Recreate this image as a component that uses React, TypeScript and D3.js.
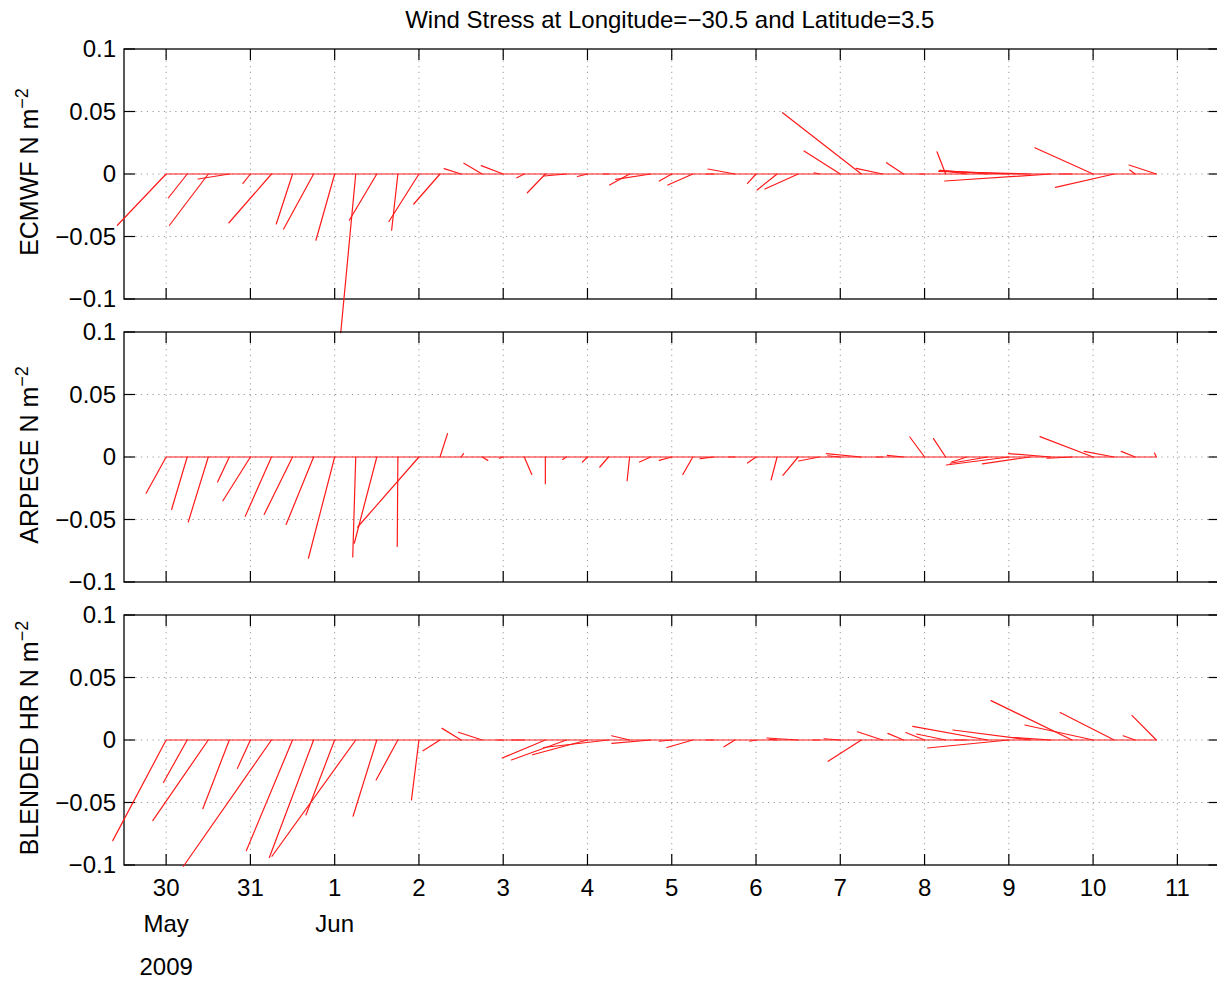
import React from "react";
import * as d3 from "d3";

// ---------- data ----------
const TITLE = "Wind Stress at Longitude=−30.5 and Latitude=3.5";
const SOURCES = ["ECMWF", "ARPEGE", "BLENDED HR"];

// x ticks: days since 30 May 2009 00:00
const DAY_TICKS = [0, 1, 2, 3, 4, 5, 6, 7, 8, 9, 10, 11, 12];
const DAY_LABELS = ["30", "31", "1", "2", "3", "4", "5", "6", "7", "8", "9", "10", "11"];
const MONTH_TICKS = [0, 2];
const MONTH_LABELS = ["May", "Jun"];
const YEAR_LABEL = "2009";
const X_DOMAIN = [-0.5, 12.5];

const Y_TICKS = [0.1, 0.05, 0, -0.05, -0.1];
const Y_TICK_LABELS = ["0.1", "0.05", "0", "−0.05", "−0.1"];
const Y_GRID = [0.05, 0, -0.05];

// sample times (days since 30 May 2009, 6-hourly)
const TIMES = [
  0, 0.25, 0.5, 0.75, 1, 1.25, 1.5, 1.75, 2, 2.25, 2.5, 2.75,
  3, 3.25, 3.5, 3.75, 4, 4.25, 4.5, 4.75, 5, 5.25, 5.5, 5.75,
  6, 6.25, 6.5, 6.75, 7, 7.25, 7.5, 7.75, 8, 8.25, 8.5, 8.75,
  9, 9.25, 9.5, 9.75, 10, 10.25, 10.5, 10.75, 11, 11.25, 11.5, 11.75,
];

const ECMWF_U = [-0.039, -0.015, -0.031, -0.025, -0.006, -0.034, -0.013, -0.024, -0.015, -0.012, -0.022, -0.005, -0.024, -0.021, -0.0136, -0.0146, -0.0176, -0.006, -0.0144, -0.018, -0.008, -0.004, -0.016, -0.028, -0.01, -0.02, -0.006, -0.0216, -0.0068, -0.016, -0.0266, -0.004, -0.029, -0.063, -0.021, -0.0136, -0.004, -0.0069, -0.022, -0.038, -0.055, -0.073, -0.085, -0.01, -0.0466, -0.047, -0.0044, -0.0218];
const ECMWF_V = [-0.041, -0.019, -0.041, -0.004, -0.0075, -0.039, -0.04, -0.044, -0.053, -0.127, -0.037, -0.045, -0.038, -0.024, 0.0043, 0.0086, 0.0067, -0.003, -0.015, -0.0016, -0.002, 0, -0.0088, -0.0043, -0.0056, -0.0088, 0, 0.004, -0.0075, -0.0128, -0.012, 0.001, 0.0184, 0.049, 0.0045, 0.009, 0, 0.0178, 0.003, 0.003, 0.0025, 0.002, -0.0056, 0, 0.021, -0.0107, 0.0032, 0.0072];

const ARPEGE_U = [-0.016, -0.0125, -0.016, -0.0094, -0.022, -0.021, -0.0227, -0.022, -0.021, -0.0024, -0.018, -0.0005, -0.049, 0.006, 0.002, 0.0045, -0.003, 0.006, 0, -0.003, -0.004, -0.007, -0.002, -0.009, -0.01, -0.008, -0.011, -0.005, -0.0068, -0.0048, -0.0122, -0.0165, -0.01, -0.028, -0.005, -0.013, -0.0118, -0.0097, -0.012, -0.03, -0.05, -0.038, -0.034, -0.02, -0.0425, -0.024, -0.0112, -0.0014];
const ARPEGE_V = [-0.029, -0.042, -0.052, -0.02, -0.035, -0.0475, -0.046, -0.054, -0.081, -0.08, -0.069, -0.0715, -0.056, 0.0187, 0.0027, -0.0027, -0.001, -0.014, -0.0213, -0.002, -0.004, -0.008, -0.019, -0.004, -0.0027, -0.014, -0.0013, 0, -0.0048, -0.0184, -0.0147, -0.0032, 0.001, 0.0027, 0, 0.0013, 0.016, 0.0147, -0.004, -0.005, -0.0064, -0.0055, 0.0027, -0.001, 0.0163, 0.0045, 0.0045, 0.0032];

const BLENDED_U = [-0.0427, -0.019, -0.0444, -0.0212, -0.0104, -0.0704, -0.037, -0.0354, -0.023, -0.067, -0.019, -0.0174, -0.006, -0.0136, -0.0152, -0.019, -0.005, -0.01, -0.0345, -0.044, -0.044, -0.052, -0.0144, -0.031, -0.01, -0.0208, -0.006, -0.0088, -0.005, -0.006, -0.025, -0.005, -0.013, -0.0266, -0.02, -0.0125, -0.015, -0.0232, -0.01, -0.06, -0.065, -0.0616, -0.03, -0.0648, -0.0546, -0.0432, -0.0097, -0.0195];
const BLENDED_V = [-0.0805, -0.034, -0.0645, -0.055, -0.0227, -0.101, -0.0886, -0.094, -0.06, -0.093, -0.061, -0.032, -0.048, -0.0086, 0.0093, 0.0062, 0, 0, -0.0144, -0.016, -0.0118, -0.006, 0.0034, -0.0027, -0.001, -0.006, 0, -0.0054, -0.001, 0.0005, 0.0016, 0, 0.001, -0.017, 0.0066, 0.0053, 0.006, 0.0048, 0, 0.0109, -0.0064, 0.008, 0.002, 0.0315, 0.012, 0.022, 0.0034, 0.0197];

const SERIES_U = [ECMWF_U, ARPEGE_U, BLENDED_U];
const SERIES_V = [ECMWF_V, ARPEGE_V, BLENDED_V];

// ---------- layout ----------
const W = 1217;
const H = 982;
const LEFT = 124;
const RIGHT = 1219.5;
const PANEL_TOPS = [49, 332, 615];
const PANEL_H = 250;
const TICK_LEN = 11;
const FONT = "'Liberation Sans', Arial, Helvetica, sans-serif";
const FS = 24;
const STICK_COLOR = "#ff1a1a";

export default function App() {
  const x = d3.scaleLinear().domain(X_DOMAIN).range([LEFT, RIGHT]);

  return (
    <svg
      width={W}
      height={H}
      viewBox={`0 0 ${W} ${H}`}
      style={{ position: "absolute", left: 0, top: 0, background: "#fff" }}
      fontFamily={FONT}
    >
      <rect x={0} y={0} width={W} height={H} fill="#fff" />
      <text x={(LEFT + RIGHT) / 2 - 2} y={28} textAnchor="middle" fontSize={FS} fill="#000">
        {TITLE}
      </text>

      {SOURCES.map((src, p) => {
        const top = PANEL_TOPS[p];
        const y = d3.scaleLinear().domain([-0.1, 0.1]).range([top + PANEL_H, top]);
        const U = SERIES_U[p];
        const V = SERIES_V[p];
        const y0 = y(0);
        const cy = top + PANEL_H / 2;
        return (
          <g key={src}>
            {/* grid */}
            <g stroke="#9a9a9a" strokeWidth={1} strokeDasharray="1.2,4.5">
              {DAY_TICKS.map((d) => (
                <line key={"gx" + d} x1={x(d)} x2={x(d)} y1={top} y2={top + PANEL_H} />
              ))}
              {Y_GRID.map((v) => (
                <line key={"gy" + v} x1={LEFT} x2={RIGHT} y1={y(v)} y2={y(v)} />
              ))}
            </g>

            {/* frame */}
            <rect x={LEFT} y={top} width={RIGHT - LEFT} height={PANEL_H} fill="none" stroke="#000" strokeWidth={1.3} />
            <g stroke="#000" strokeWidth={1.2}>
              {DAY_TICKS.map((d) => (
                <g key={"tx" + d}>
                  <line x1={x(d)} x2={x(d)} y1={top} y2={top + TICK_LEN} />
                  <line x1={x(d)} x2={x(d)} y1={top + PANEL_H} y2={top + PANEL_H - TICK_LEN} />
                </g>
              ))}
              {Y_TICKS.map((v) => (
                <g key={"ty" + v}>
                  <line x1={LEFT} x2={LEFT + TICK_LEN} y1={y(v)} y2={y(v)} />
                  <line x1={RIGHT} x2={RIGHT - TICK_LEN} y1={y(v)} y2={y(v)} />
                </g>
              ))}
            </g>

            {/* y tick labels */}
            {Y_TICKS.map((v, i) => (
              <text key={"yl" + v} x={LEFT - 8} y={y(v) + 8} textAnchor="end" fontSize={FS} fill="#000">
                {Y_TICK_LABELS[i]}
              </text>
            ))}

            {/* y axis label */}
            <text transform={`translate(38,${cy - 2}) rotate(-90)`} textAnchor="middle" fontSize={25} fill="#000">
              {src} N m<tspan dy={-10} fontSize={18}>−2</tspan>
            </text>

            {/* baseline */}
            <line
              x1={x(TIMES[0])}
              x2={x(TIMES[TIMES.length - 1])}
              y1={y0}
              y2={y0}
              stroke={STICK_COLOR}
              strokeWidth={1.2}
            />
            {/* sticks */}
            <g stroke={STICK_COLOR} strokeWidth={1.2} strokeLinecap="round">
              {TIMES.map((t, i) => (
                <line
                  key={"s" + i}
                  x1={x(t)}
                  y1={y0}
                  x2={x(t) + (y0 - y(U[i]))}
                  y2={y(V[i])}
                />
              ))}
            </g>
          </g>
        );
      })}

      {/* x tick labels under bottom panel */}
      {DAY_TICKS.map((d, i) => (
        <text key={"xl" + d} x={x(d)} y={896} textAnchor="middle" fontSize={FS} fill="#000">
          {DAY_LABELS[i]}
        </text>
      ))}
      {MONTH_TICKS.map((d, i) => (
        <text key={"ml" + d} x={x(d)} y={932} textAnchor="middle" fontSize={FS} fill="#000">
          {MONTH_LABELS[i]}
        </text>
      ))}
      <text x={x(0)} y={975} textAnchor="middle" fontSize={FS} fill="#000">
        {YEAR_LABEL}
      </text>
    </svg>
  );
}
